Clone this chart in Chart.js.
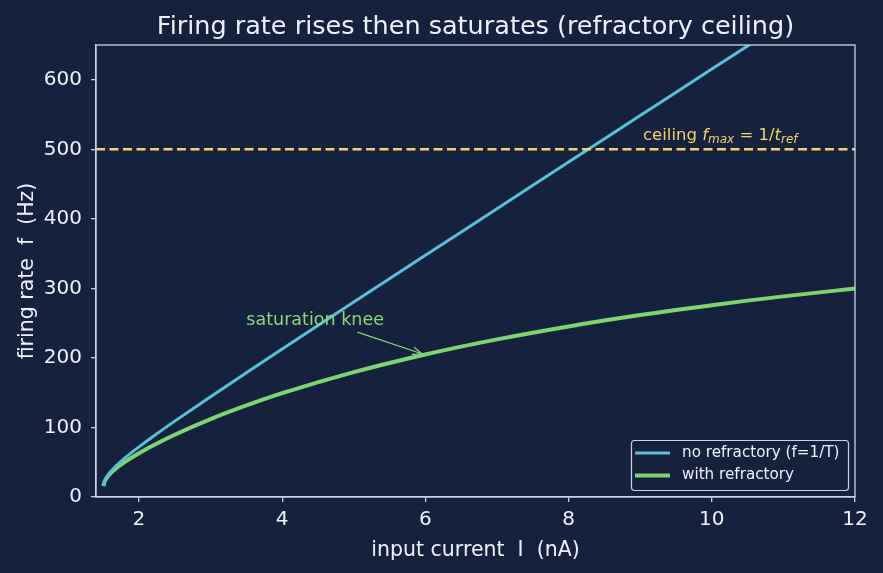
<!DOCTYPE html>
<html><head><meta charset="utf-8">
<script src="https://cdn.jsdelivr.net/npm/chart.js@4"></script>
<style>html,body{margin:0;padding:0;background:#16213e;}#wrap{width:883px;height:573px;}</style>
</head><body><div id="wrap"><canvas id="c" width="883" height="573"></canvas></div>
<script>
// input current I (nA)
const currents = [1.503, 1.51, 1.52, 1.55, 1.6, 1.7, 1.8, 2.0, 2.25, 2.5, 3, 3.5, 4, 5, 6, 7, 8, 9, 10, 10.5, 11, 12];
// firing rate without refractory period (Hz)
const rateNoRef = [16.1, 19.9, 23.1, 29.1, 36.1, 46.7, 55.8, 72.1, 91.0, 109.1, 144.3, 178.7, 212.8, 280.4, 347.6, 414.6, 481.7, 548.5, 615.4, 648.7, 682.1, 748.9];
// firing rate with refractory period (Hz)
const rateRef = [15.6, 19.2, 22.1, 27.5, 33.6, 42.7, 50.2, 63.0, 77.0, 89.6, 112.0, 131.6, 149.3, 179.6, 205.0, 226.7, 245.3, 261.6, 275.9, 282.4, 288.5, 299.8];
const ceiling = 500;
const xTicks = [2, 4, 6, 8, 10, 12];
const yTicks = [0, 100, 200, 300, 400, 500, 600];
const seriesNames = ['no refractory (f=1/T)', 'with refractory'];
const kneeText = { x: 3.5, y: 248, label: 'saturation knee' };
const kneeArrow = { x0: 5.05, y0: 237, x1: 5.95, y1: 206 };
const ceilingLabelPos = { x: 9.04, y: 513 };

const BG = '#16213e', FG = '#eef1f7', FRAME = '#c9d1e3';
const BLUE = '#56c1d9', GREEN = '#7fd46f', YEL = '#f2d36b', KNEE = '#8fd57c';
const FONT = '"DejaVu Sans", sans-serif';

const overlay = {
  id: 'overlay',
  beforeDraw(chart) {
    const ctx = chart.ctx;
    ctx.save(); ctx.fillStyle = BG; ctx.fillRect(0, 0, chart.width, chart.height); ctx.restore();
  },
  afterDatasetsDraw(chart) {
    const ctx = chart.ctx, a = chart.chartArea, xs = chart.scales.x, ys = chart.scales.y;
    ctx.save();
    // ceiling dashed line
    const yc = ys.getPixelForValue(ceiling);
    ctx.strokeStyle = YEL; ctx.lineWidth = 2.4; ctx.setLineDash([9, 4.5]);
    ctx.beginPath(); ctx.moveTo(a.left, yc); ctx.lineTo(a.right, yc); ctx.stroke();
    ctx.setLineDash([]);
    // ceiling label with math
    let px = xs.getPixelForValue(ceilingLabelPos.x), py = ys.getPixelForValue(ceilingLabelPos.y);
    ctx.fillStyle = YEL; ctx.textBaseline = 'alphabetic'; ctx.textAlign = 'left';
    const parts = [
      ['ceiling ', '16.5px ' + FONT, 0],
      ['f', 'italic 16.5px ' + FONT, 0],
      ['max', 'italic 12px ' + FONT, 2.5],
      [' = 1/', '16.5px ' + FONT, 0],
      ['t', 'italic 16.5px ' + FONT, 0],
      ['ref', 'italic 12px ' + FONT, 2.5]
    ];
    for (const [t, f, dy] of parts) { ctx.font = f; ctx.fillText(t, px, py + dy); px += ctx.measureText(t).width; }
    // knee annotation
    ctx.font = '17.5px ' + FONT; ctx.fillStyle = KNEE; ctx.textBaseline = 'alphabetic';
    ctx.fillText(kneeText.label, xs.getPixelForValue(kneeText.x), ys.getPixelForValue(kneeText.y));
    const x0 = xs.getPixelForValue(kneeArrow.x0), y0 = ys.getPixelForValue(kneeArrow.y0);
    const x1 = xs.getPixelForValue(kneeArrow.x1), y1 = ys.getPixelForValue(kneeArrow.y1);
    ctx.strokeStyle = KNEE; ctx.lineWidth = 1.2;
    ctx.beginPath(); ctx.moveTo(x0, y0); ctx.lineTo(x1, y1); ctx.stroke();
    const ang = Math.atan2(y1 - y0, x1 - x0);
    ctx.beginPath();
    ctx.moveTo(x1 - 10 * Math.cos(ang - 0.38), y1 - 10 * Math.sin(ang - 0.38));
    ctx.lineTo(x1, y1);
    ctx.lineTo(x1 - 10 * Math.cos(ang + 0.38), y1 - 10 * Math.sin(ang + 0.38));
    ctx.stroke();
    // frame
    ctx.strokeStyle = FRAME; ctx.lineWidth = 1.3;
    ctx.strokeRect(a.left, a.top, a.right - a.left, a.bottom - a.top);
    // legend
    const lx = 631, ly = 440, lw = 217, lh = 50;
    ctx.fillStyle = 'rgba(22,33,62,0.85)'; ctx.strokeStyle = FRAME; ctx.lineWidth = 1.2;
    ctx.beginPath(); ctx.roundRect(lx + 0.5, ly + 0.5, lw, lh, 3); ctx.fill(); ctx.stroke();
    const items = [[seriesNames[0], BLUE, 3], [seriesNames[1], GREEN, 4]];
    ctx.font = '15.2px ' + FONT; ctx.textBaseline = 'middle';
    items.forEach(([t, c, w], i) => {
      const yy = ly + 13 + i * 22.5;
      ctx.strokeStyle = c; ctx.lineWidth = w;
      ctx.beginPath(); ctx.moveTo(lx + 4, yy); ctx.lineTo(lx + 39, yy); ctx.stroke();
      ctx.fillStyle = FG; ctx.fillText(t, lx + 51, yy);
    });
    // titles
    ctx.fillStyle = FG; ctx.textAlign = 'center'; ctx.textBaseline = 'alphabetic';
    ctx.font = '25.5px ' + FONT;
    ctx.fillText('Firing rate rises then saturates (refractory ceiling)', (a.left + a.right) / 2, 34);
    ctx.font = '20.5px ' + FONT;
    ctx.fillText('input current  I  (nA)', (a.left + a.right) / 2, 556);
    ctx.save(); ctx.translate(33, (a.top + a.bottom) / 2); ctx.rotate(-Math.PI / 2);
    ctx.fillText('firing rate  f  (Hz)', 0, 0); ctx.restore();
    ctx.restore();
  }
};

new Chart(document.getElementById('c'), {
  type: 'line',
  data: {
    datasets: [
      { label: seriesNames[0], data: currents.map((x, i) => ({ x, y: rateNoRef[i] })), borderColor: BLUE, borderWidth: 3, pointRadius: 0, tension: 0.4, cubicInterpolationMode: 'monotone' },
      { label: seriesNames[1], data: currents.map((x, i) => ({ x, y: rateRef[i] })), borderColor: GREEN, borderWidth: 4, pointRadius: 0, tension: 0.4, cubicInterpolationMode: 'monotone' }
    ]
  },
  options: {
    responsive: false, animation: false,
    layout: { padding: { top: 45, right: 28, left: 0, bottom: 0 } },
    plugins: { legend: { display: false }, title: { display: false }, tooltip: { enabled: false } },
    scales: {
      x: {
        type: 'linear', min: 1.4, max: 12,
        afterFit(s) { s.height = 76; },
        afterBuildTicks(s) { s.ticks = xTicks.map(v => ({ value: v })); },
        ticks: { color: FG, font: { size: 20, family: FONT }, padding: 6, autoSkip: false, maxRotation: 0 },
        grid: { drawOnChartArea: false, drawTicks: true, tickLength: 5, color: FRAME, lineWidth: 1.3 },
        border: { display: true, color: FRAME, width: 1.3 }
      },
      y: {
        type: 'linear', min: 0, max: 650,
        afterFit(s) { s.width = 96; },
        afterBuildTicks(s) { s.ticks = yTicks.map(v => ({ value: v })); },
        ticks: { color: FG, font: { size: 20, family: FONT }, padding: 9, autoSkip: false },
        grid: { drawOnChartArea: false, drawTicks: true, tickLength: 5, color: FRAME, lineWidth: 1.3 },
        border: { display: true, color: FRAME, width: 1.3 }
      }
    }
  },
  plugins: [overlay]
});
</script></body></html>
